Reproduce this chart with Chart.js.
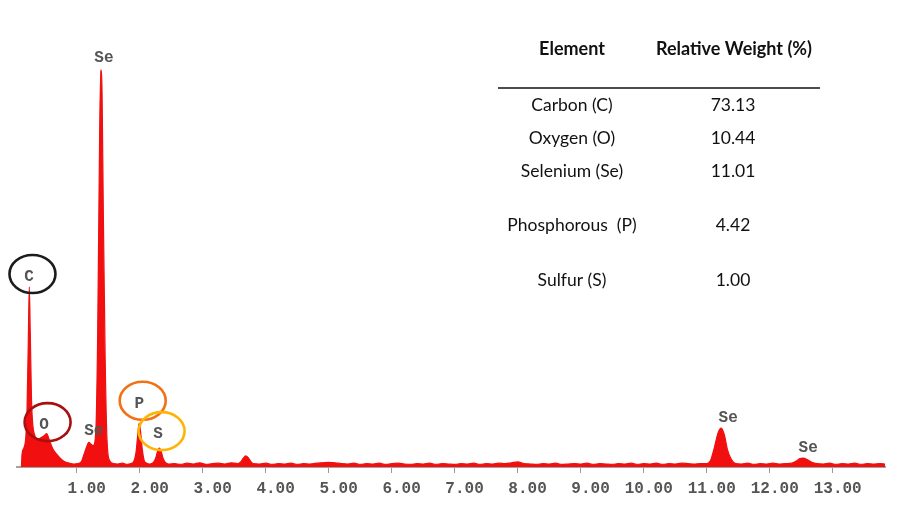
<!DOCTYPE html>
<html>
<head>
<meta charset="utf-8">
<script src="https://cdn.jsdelivr.net/npm/chart.js@4"></script>
<style>
  html, body { margin: 0; padding: 0; background: #ffffff; }
  #wrap { width: 903px; height: 505px; }
</style>
</head>
<body>
<div id="wrap"><canvas id="eds" width="903" height="505"></canvas></div>
<script>
// EDS spectrum: energy (keV) and counts (arbitrary units)
const spectrumKeV = [
  0.12, 0.13, 0.16, 0.19, 0.21, 0.23, 0.245, 0.26, 0.28, 0.30, 0.33, 0.37, 0.42, 0.47, 0.52, 0.57, 0.62, 0.68, 0.74, 0.80, 0.88, 0.95,
  1.02, 1.07, 1.11, 1.15, 1.19, 1.22, 1.26, 1.30, 1.33, 1.36, 1.38, 1.40, 1.42, 1.45, 1.48, 1.52, 1.58,
  1.65, 1.72, 1.80, 1.86, 1.90, 1.94, 1.97, 1.99, 2.01, 2.04, 2.07, 2.11, 2.16, 2.21, 2.25, 2.28, 2.31, 2.34, 2.37, 2.41, 2.46,
  2.55, 2.65, 2.75, 2.85, 2.95, 3.05, 3.15, 3.25, 3.35, 3.45, 3.55,
  3.60, 3.64, 3.68, 3.72, 3.76, 3.80,
  3.9, 4.0, 4.1, 4.2, 4.3, 4.4, 4.5, 4.6, 4.7, 4.8, 4.9, 5.0, 5.1, 5.2, 5.3, 5.4, 5.5, 5.6, 5.7, 5.8,
  5.9, 6.0, 6.1, 6.2, 6.3, 6.4, 6.5, 6.6, 6.7, 6.8, 6.9, 7.0, 7.1, 7.2, 7.3, 7.4, 7.5, 7.6, 7.7, 7.8,
  7.9, 8.0, 8.1, 8.2, 8.3, 8.4, 8.5, 8.6, 8.7, 8.8, 8.9, 9.0, 9.1, 9.2, 9.3, 9.4, 9.5, 9.6, 9.7, 9.8,
  9.9, 10.0, 10.1, 10.2, 10.3, 10.4, 10.5, 10.6, 10.7, 10.8, 10.9,
  11.00, 11.06, 11.12, 11.18, 11.23, 11.28, 11.33, 11.39, 11.46, 11.55, 11.65, 11.75, 11.85, 11.95, 12.05, 12.15, 12.25,
  12.35, 12.42, 12.48, 12.53, 12.60, 12.67, 12.75, 12.85, 12.95, 13.05, 13.15, 13.25, 13.35, 13.45, 13.55, 13.65, 13.75, 13.83
];
const spectrumCounts = [
  0, 3.0, 4.5, 7, 14, 30, 42.2, 32, 16, 10, 7.5, 6.5, 6.8, 7.2, 7.8, 6.0, 4.2, 3.0, 2.0, 1.3, 0.9, 0.7,
  0.8, 1.2, 2.8, 4.5, 5.8, 5.4, 5.0, 8, 30, 75, 93, 88, 60, 25, 6, 1.5, 0.8,
  0.7, 0.9, 0.6, 0.8, 1.2, 3.5, 8, 10.3, 8.5, 4, 1.5, 0.9, 0.7, 1.0, 2.0, 3.6, 4.4, 3.6, 2.0, 1.0, 0.7,
  0.8, 0.6, 0.9, 0.7, 1.0, 0.6, 0.8, 0.9, 0.7, 1.0, 0.8,
  1.2, 2.0, 2.6, 2.2, 1.3, 0.8,
  0.7, 0.9, 0.6, 0.8, 0.7, 0.9, 0.6, 0.8, 0.7, 0.9, 1.0, 1.1, 1.0, 0.8, 0.7, 0.9, 0.6, 0.8, 0.7, 0.9,
  0.6, 0.8, 0.9, 0.7, 0.6, 0.8, 0.7, 0.9, 0.6, 0.8, 0.7, 0.6, 0.8, 0.7, 0.9, 0.6, 0.8, 0.7, 0.9, 0.8,
  1.0, 1.2, 0.8, 0.7, 0.6, 0.8, 0.7, 0.9, 0.6, 0.7, 0.8, 0.7, 0.9, 0.6, 0.8, 0.7, 0.6, 0.8, 0.7, 0.9,
  0.6, 0.8, 0.7, 0.9, 0.6, 0.8, 0.7, 0.9, 0.8, 0.7, 0.8,
  0.8, 1.5, 4.5, 8.0, 9.1, 7.5, 4.0, 1.8, 0.8, 0.7, 0.9, 0.6, 0.8, 0.7, 0.9, 0.7, 0.8,
  0.9, 1.4, 2.0, 2.1, 1.7, 1.1, 0.8, 0.7, 0.9, 0.6, 0.8, 0.7, 0.9, 0.6, 0.8, 0.7, 0.8, 0.7
];

// Axis ticks (keV)
const xTickValues = [1, 2, 3, 4, 5, 6, 7, 8, 9, 10, 11, 12, 13];

// Peak labels placed in data space (energy, counts)
const peakLabels      = ['C', 'O', 'Se', 'Se', 'P', 'S', 'Se', 'Se'];
const peakLabelKeV    = [0.24, 0.48, 1.27, 1.43, 1.99, 2.29, 11.34, 12.61];
const peakLabelCounts = [44.5, 9.8, 8.4, 95.8, 14.8, 7.7, 11.5, 4.4];

// Highlighted elements (ringed labels)
const ringedElements = ['C', 'O', 'P', 'S'];
const ringColors     = ['#1c1c1c', '#a80f0f', '#f07214', '#ffb405'];

// Quantification table
const tableHeader   = ['Element', 'Relative Weight (%)'];
const tableElements = ['Carbon (C)', 'Oxygen (O)', 'Selenium (Se)', 'Phosphorous  (P)', 'Sulfur (S)'];
const tableWeights  = ['73.13', '10.44', '11.01', '4.42', '1.00'];

const points = spectrumKeV.map((e, i) => ({ x: e, y: spectrumCounts[i] }));

const peakAnnotations = {
  id: 'peakAnnotations',
  afterDatasetsDraw(chart) {
    const { ctx, scales: { x, y } } = chart;
    ctx.save();
    ctx.font = 'bold 16px "Liberation Mono", "DejaVu Sans Mono", monospace';
    ctx.fillStyle = '#555555';
    ctx.textAlign = 'center';
    ctx.textBaseline = 'middle';
    peakLabels.forEach((lab, i) => {
      const px = x.getPixelForValue(peakLabelKeV[i]);
      const py = y.getPixelForValue(peakLabelCounts[i]);
      ctx.fillText(lab, px, py);
    });
    // rings around the highlighted element labels
    ctx.lineWidth = 2.6;
    ringedElements.forEach((el, k) => {
      const i = peakLabels.indexOf(el);
      const px = x.getPixelForValue(peakLabelKeV[i]) + 3.5;
      const py = y.getPixelForValue(peakLabelCounts[i]) - 3;
      ctx.strokeStyle = ringColors[k];
      ctx.beginPath();
      ctx.ellipse(px, py, 23, 19, 0, 0, Math.PI * 2);
      ctx.stroke();
    });
    ctx.restore();
  }
};

const compositionTable = {
  id: 'compositionTable',
  afterDraw(chart) {
    const { ctx } = chart;
    const colX = [572, 734];
    const rowY = [105, 138, 171, 225, 280];
    ctx.save();
    ctx.fillStyle = '#111111';
    ctx.textAlign = 'center';
    ctx.textBaseline = 'middle';
    ctx.font = 'bold 18px Lato, "Open Sans", sans-serif';
    ctx.fillText(tableHeader[0], colX[0], 49);
    ctx.fillText(tableHeader[1], colX[1], 49);
    ctx.strokeStyle = '#111111';
    ctx.lineWidth = 1.6;
    ctx.beginPath();
    ctx.moveTo(498, 88);
    ctx.lineTo(820, 88);
    ctx.stroke();
    ctx.font = '17.5px Lato, "Open Sans", sans-serif';
    tableElements.forEach((name, i) => {
      ctx.fillText(name, colX[0], rowY[i]);
      ctx.fillText(tableWeights[i], colX[1] - 1, rowY[i]);
    });
    ctx.restore();
  }
};

new Chart(document.getElementById('eds'), {
  type: 'line',
  data: {
    datasets: [{
      data: points,
      borderColor: '#f01010',
      borderWidth: 1.2,
      backgroundColor: '#f20f0f',
      fill: 'origin',
      pointRadius: 0,
      cubicInterpolationMode: 'monotone'
    }]
  },
  options: {
    responsive: false,
    animation: false,
    events: [],
    layout: { padding: { left: 17, right: 18, top: 40, bottom: 0 } },
    plugins: { legend: { display: false }, tooltip: { enabled: false } },
    scales: {
      x: {
        type: 'linear',
        min: 0.05,
        max: 13.83,
        afterBuildTicks(scale) { scale.ticks = xTickValues.map(v => ({ value: v })); },
        afterFit(scale) { scale.height = 38; },
        border: { display: true, color: '#a3a3a3', width: 2 },
        grid: { display: true, drawOnChartArea: false, drawTicks: true, tickLength: 6, tickColor: '#9a9a9a', tickWidth: 1 },
        ticks: {
          align: 'end',
          labelOffset: 29,
          padding: 6,
          maxRotation: 0,
          autoSkip: false,
          color: '#555555',
          font: { family: '"Liberation Mono", "DejaVu Sans Mono", monospace', size: 16, weight: 'bold' },
          callback: v => Number(v).toFixed(2)
        }
      },
      y: { display: false, min: 0, max: 100 }
    }
  },
  plugins: [peakAnnotations, compositionTable]
});
</script>
</body>
</html>
